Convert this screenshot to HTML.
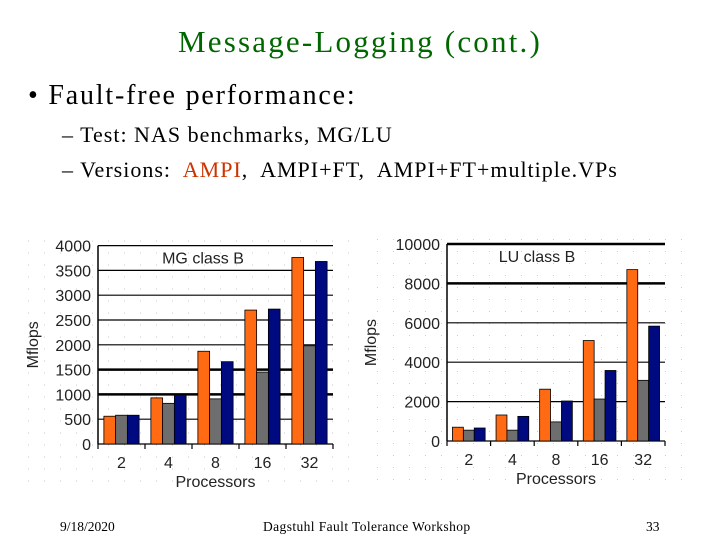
<!DOCTYPE html>
<html><head><meta charset="utf-8"><style>
body{margin:0;width:720px;height:540px;background:#fff;overflow:hidden;position:relative;font-family:"Liberation Serif",serif}
.t{position:absolute;white-space:nowrap}
</style></head><body>
<div class="t" style="left:0;width:720px;text-align:center;top:24px;font-size:31px;letter-spacing:2.2px;color:#006600">Message-Logging (cont.)</div>
<div class="t" style="left:28px;top:80px;font-size:28px;letter-spacing:1.8px;color:#000">• Fault-free performance:</div>
<div class="t" style="left:62px;top:122px;font-size:22px;letter-spacing:1px">– Test: NAS benchmarks, MG/LU</div>
<div class="t" style="left:62px;top:157px;font-size:22px;letter-spacing:1px">– Versions:&nbsp; <span style="color:#cc3300">AMPI</span>,&nbsp; AMPI+FT,&nbsp; AMPI+FT+multiple.VPs</div>
<div class="t" style="left:60px;top:519px;font-size:13.5px">9/18/2020</div>
<div class="t" style="left:263px;top:519px;font-size:13.5px;letter-spacing:0.4px">Dagstuhl Fault Tolerance Workshop</div>
<div class="t" style="left:646px;top:519px;font-size:13.5px">33</div>
<svg id="ch" width="720" height="540" style="position:absolute;left:0;top:0"></svg>
<script>
const categories=["2","4","8","16","32"];
const mgAmpi=[560,930,1870,2700,3760];
const mgFt=[580,820,910,1450,1980];
const mgVp=[580,990,1660,2720,3680];
const mgTicks=[0,500,1000,1500,2000,2500,3000,3500,4000];
const luAmpi=[700,1320,2630,5100,8700];
const luFt=[550,550,970,2130,3080];
const luVp=[660,1250,2030,3580,5830];
const luTicks=[0,2000,4000,6000,8000,10000];
const NS="http://www.w3.org/2000/svg";
const svg=document.getElementById('ch');
function mk(tag,at,txt){const e=document.createElementNS(NS,tag);for(const k in at)e.setAttribute(k,at[k]);if(txt!==undefined)e.textContent=txt;svg.appendChild(e);return e;}
function chart(o){
 const y=v=>o.y0-(v/o.max)*(o.y0-o.y1);
 const cw=(o.x1-o.x0)/categories.length;
 for(let gx=o.x0-70;gx<o.x1+20;gx+=16)for(let gy=o.y1-5;gy<o.y0+45;gy+=12){
  const d=mk('rect',{x:gx,y:gy,width:1,height:1,fill:'#ccc'});
  }
 o.ticks.forEach(t=>{
  const g=mk('line',{x1:o.x0,x2:o.x1,y1:y(t),y2:y(t),stroke:'#000','stroke-width':o.thick.includes(t)?2.5:1.2});
  
  const l=mk('text',{x:o.x0-7,y:y(t)+6,'text-anchor':'end','font-size':16,'font-family':'Liberation Sans, sans-serif',fill:'#222'},String(t));
  
 });
 const ax=mk('line',{x1:o.x0,x2:o.x0,y1:o.y1,y2:o.y0,stroke:'#000','stroke-width':1.5});
 
 for(let i=0;i<=categories.length;i++){const tk=mk('line',{x1:o.x0+i*cw,x2:o.x0+i*cw,y1:o.y0,y2:o.y0+5,stroke:'#000','stroke-width':1.2});
  }
 const bw=cw*0.25,off=cw*0.125;
 const cols=['#ff6a13','#6e6e6e','#000a80'];
 [o.a,o.b,o.c].forEach((s,si)=>s.forEach((v,i)=>{
  const r=mk('rect',{x:o.x0+i*cw+off+si*bw,y:y(v),width:bw,height:o.y0-y(v),fill:cols[si],stroke:'#000','stroke-width':0.8});
  
  
 }));
 categories.forEach((c,i)=>{const t=mk('text',{x:o.x0+(i+0.5)*cw,y:o.y0+24,'text-anchor':'middle','font-size':16,'font-family':'Liberation Sans, sans-serif',fill:'#222'},c);
  });
 const xt=mk('text',{x:(o.x0+o.x1)/2,y:o.y0+43,'text-anchor':'middle','font-size':16,'font-family':'Liberation Sans, sans-serif',fill:'#222'},'Processors');
 
 const yt=mk('text',{x:0,y:0,transform:`translate(${o.ytx},${(o.y0+o.y1)/2}) rotate(-90)`,'text-anchor':'middle','font-size':16,'font-family':'Liberation Sans, sans-serif',fill:'#222'},'Mflops');
 
 const ti=mk('text',{x:o.tx,y:o.y1+18,'text-anchor':'middle','font-size':16,'font-family':'Liberation Sans, sans-serif',fill:'#222'},o.title);
 
}
chart({x0:98,x1:333,y0:444,y1:245.6,max:4000,ticks:mgTicks,thick:[1000,1500],a:mgAmpi,b:mgFt,c:mgVp,title:'MG class B',tx:203,ytx:38});
chart({x0:447,x1:665,y0:441,y1:244,max:10000,ticks:luTicks,thick:[8000,10000],a:luAmpi,b:luFt,c:luVp,title:'LU class B',tx:537,ytx:376});
</script>
</body></html>
